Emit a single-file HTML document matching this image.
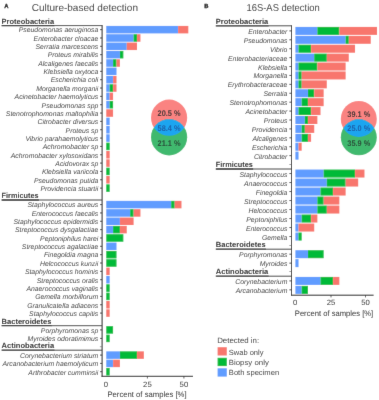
<!DOCTYPE html>
<html><head><meta charset="utf-8"><title>Detection</title>
<style>
html,body{margin:0;padding:0;background:#fff;}
body{width:379px;height:400px;overflow:hidden;}
svg{display:block;font-family:"Liberation Sans",sans-serif;text-rendering:geometricPrecision;will-change:transform;}
</style></head><body>
<svg width="379" height="400" viewBox="0 0 379 400">
<rect x="0" y="0" width="379" height="400" fill="#ffffff"/>
<defs><filter id="soft" x="0" y="0" width="379" height="400" filterUnits="userSpaceOnUse"><feConvolveMatrix order="3" kernelMatrix="0.00524 0.06192 0.00524 0.06192 0.73137 0.06192 0.00524 0.06192 0.00524" edgeMode="duplicate" preserveAlpha="true"/></filter></defs>
<g filter="url(#soft)">
<rect x="-5" y="-5" width="389" height="410" fill="#ffffff"/>
<line x1="102.10" y1="25.00" x2="102.10" y2="376.80" stroke="#111" stroke-width="0.95"/>
<line x1="101.60" y1="376.30" x2="193.00" y2="376.30" stroke="#111" stroke-width="0.95"/>
<line x1="54.10" y1="25.60" x2="102.10" y2="25.60" stroke="#444" stroke-width="1.0"/>
<line x1="1.60" y1="25.60" x2="54.40" y2="25.60" stroke="#1a1a1a" stroke-width="1.3"/>
<text x="1.60" y="23.70" font-size="7.5" text-anchor="start" font-weight="bold" font-style="normal" fill="#222" textLength="52.50" lengthAdjust="spacingAndGlyphs">Proteobacteria</text>
<rect x="106.25" y="25.90" width="71.82" height="7.50" fill="#619CFF"/>
<rect x="178.07" y="25.90" width="10.26" height="7.50" fill="#F8766D"/>
<line x1="100.00" y1="29.65" x2="102.10" y2="29.65" stroke="#333" stroke-width="0.9"/>
<text x="98.30" y="32.45" font-size="6.85" text-anchor="end" font-weight="normal" font-style="italic" fill="#3a3a3a">Pseudomonas aeruginosa</text>
<rect x="106.25" y="34.24" width="27.36" height="7.50" fill="#619CFF"/>
<rect x="133.61" y="34.24" width="3.42" height="7.50" fill="#00BA38"/>
<rect x="137.03" y="34.24" width="3.42" height="7.50" fill="#F8766D"/>
<line x1="100.00" y1="37.99" x2="102.10" y2="37.99" stroke="#333" stroke-width="0.9"/>
<text x="98.30" y="40.79" font-size="6.85" text-anchor="end" font-weight="normal" font-style="italic" fill="#3a3a3a">Enterobacter cloacae</text>
<rect x="106.25" y="42.58" width="20.52" height="7.50" fill="#619CFF"/>
<rect x="126.77" y="42.58" width="10.26" height="7.50" fill="#F8766D"/>
<line x1="100.00" y1="46.33" x2="102.10" y2="46.33" stroke="#333" stroke-width="0.9"/>
<text x="98.30" y="49.13" font-size="6.85" text-anchor="end" font-weight="normal" font-style="italic" fill="#3a3a3a">Serratia marcescens</text>
<rect x="106.25" y="50.92" width="13.68" height="7.50" fill="#619CFF"/>
<rect x="119.93" y="50.92" width="3.42" height="7.50" fill="#00BA38"/>
<line x1="100.00" y1="54.67" x2="102.10" y2="54.67" stroke="#333" stroke-width="0.9"/>
<text x="98.30" y="57.47" font-size="6.85" text-anchor="end" font-weight="normal" font-style="italic" fill="#3a3a3a">Proteus mirabilis</text>
<rect x="106.25" y="59.26" width="6.84" height="7.50" fill="#619CFF"/>
<rect x="113.09" y="59.26" width="3.42" height="7.50" fill="#00BA38"/>
<rect x="116.51" y="59.26" width="3.42" height="7.50" fill="#F8766D"/>
<line x1="100.00" y1="63.01" x2="102.10" y2="63.01" stroke="#333" stroke-width="0.9"/>
<text x="98.30" y="65.81" font-size="6.85" text-anchor="end" font-weight="normal" font-style="italic" fill="#3a3a3a">Alcaligenes faecalis</text>
<rect x="106.25" y="67.60" width="10.26" height="7.50" fill="#619CFF"/>
<line x1="100.00" y1="71.35" x2="102.10" y2="71.35" stroke="#333" stroke-width="0.9"/>
<text x="98.30" y="74.15" font-size="6.85" text-anchor="end" font-weight="normal" font-style="italic" fill="#3a3a3a">Klebsiella oxytoca</text>
<rect x="106.25" y="75.94" width="6.84" height="7.50" fill="#619CFF"/>
<rect x="113.09" y="75.94" width="3.42" height="7.50" fill="#F8766D"/>
<line x1="100.00" y1="79.69" x2="102.10" y2="79.69" stroke="#333" stroke-width="0.9"/>
<text x="98.30" y="82.49" font-size="6.85" text-anchor="end" font-weight="normal" font-style="italic" fill="#3a3a3a">Escherichia coli</text>
<rect x="106.25" y="84.28" width="3.42" height="7.50" fill="#619CFF"/>
<rect x="109.67" y="84.28" width="3.42" height="7.50" fill="#00BA38"/>
<rect x="113.09" y="84.28" width="3.42" height="7.50" fill="#F8766D"/>
<line x1="100.00" y1="88.03" x2="102.10" y2="88.03" stroke="#333" stroke-width="0.9"/>
<text x="98.30" y="90.83" font-size="6.85" text-anchor="end" font-weight="normal" font-style="italic" fill="#3a3a3a">Morganella morganii</text>
<rect x="106.25" y="92.62" width="3.42" height="7.50" fill="#619CFF"/>
<rect x="109.67" y="92.62" width="3.42" height="7.50" fill="#F8766D"/>
<line x1="100.00" y1="96.37" x2="102.10" y2="96.37" stroke="#333" stroke-width="0.9"/>
<text x="98.30" y="99.17" font-size="6.85" text-anchor="end" font-weight="normal" font-style="italic" fill="#3a3a3a">Acinetobacter haemolyticus</text>
<rect x="106.25" y="100.96" width="3.42" height="7.50" fill="#619CFF"/>
<rect x="109.67" y="100.96" width="3.42" height="7.50" fill="#00BA38"/>
<line x1="100.00" y1="104.71" x2="102.10" y2="104.71" stroke="#333" stroke-width="0.9"/>
<text x="98.30" y="107.51" font-size="6.85" text-anchor="end" font-weight="normal" font-style="italic" fill="#3a3a3a">Pseudomonas spp</text>
<rect x="106.25" y="109.30" width="6.84" height="7.50" fill="#F8766D"/>
<line x1="100.00" y1="113.05" x2="102.10" y2="113.05" stroke="#333" stroke-width="0.9"/>
<text x="98.30" y="115.85" font-size="6.85" text-anchor="end" font-weight="normal" font-style="italic" fill="#3a3a3a">Stenotrophomonas maltophilia</text>
<rect x="106.25" y="117.64" width="3.42" height="7.50" fill="#619CFF"/>
<line x1="100.00" y1="121.39" x2="102.10" y2="121.39" stroke="#333" stroke-width="0.9"/>
<text x="98.30" y="124.19" font-size="6.85" text-anchor="end" font-weight="normal" font-style="italic" fill="#3a3a3a">Citrobacter diversus</text>
<rect x="106.25" y="125.98" width="3.42" height="7.50" fill="#619CFF"/>
<line x1="100.00" y1="129.73" x2="102.10" y2="129.73" stroke="#333" stroke-width="0.9"/>
<text x="98.30" y="132.53" font-size="6.85" text-anchor="end" font-weight="normal" font-style="italic" fill="#3a3a3a">Proteus sp</text>
<rect x="106.25" y="134.32" width="3.42" height="7.50" fill="#619CFF"/>
<line x1="100.00" y1="138.07" x2="102.10" y2="138.07" stroke="#333" stroke-width="0.9"/>
<text x="98.30" y="140.87" font-size="6.85" text-anchor="end" font-weight="normal" font-style="italic" fill="#3a3a3a">Vibrio parahaemolyticus</text>
<rect x="106.25" y="142.66" width="3.42" height="7.50" fill="#00BA38"/>
<line x1="100.00" y1="146.41" x2="102.10" y2="146.41" stroke="#333" stroke-width="0.9"/>
<text x="98.30" y="149.21" font-size="6.85" text-anchor="end" font-weight="normal" font-style="italic" fill="#3a3a3a">Achromobacter sp</text>
<rect x="106.25" y="151.00" width="3.42" height="7.50" fill="#F8766D"/>
<line x1="100.00" y1="154.75" x2="102.10" y2="154.75" stroke="#333" stroke-width="0.9"/>
<text x="98.30" y="157.55" font-size="6.85" text-anchor="end" font-weight="normal" font-style="italic" fill="#3a3a3a">Achromobacter xylosoxidans</text>
<rect x="106.25" y="159.34" width="3.42" height="7.50" fill="#F8766D"/>
<line x1="100.00" y1="163.09" x2="102.10" y2="163.09" stroke="#333" stroke-width="0.9"/>
<text x="98.30" y="165.89" font-size="6.85" text-anchor="end" font-weight="normal" font-style="italic" fill="#3a3a3a">Acidovorax sp</text>
<rect x="106.25" y="167.68" width="3.42" height="7.50" fill="#00BA38"/>
<line x1="100.00" y1="171.43" x2="102.10" y2="171.43" stroke="#333" stroke-width="0.9"/>
<text x="98.30" y="174.23" font-size="6.85" text-anchor="end" font-weight="normal" font-style="italic" fill="#3a3a3a">Klebsiella variicola</text>
<rect x="106.25" y="176.02" width="3.42" height="7.50" fill="#F8766D"/>
<line x1="100.00" y1="179.77" x2="102.10" y2="179.77" stroke="#333" stroke-width="0.9"/>
<text x="98.30" y="182.57" font-size="6.85" text-anchor="end" font-weight="normal" font-style="italic" fill="#3a3a3a">Pseudomonas putida</text>
<rect x="106.25" y="184.36" width="3.42" height="7.50" fill="#00BA38"/>
<line x1="100.00" y1="188.11" x2="102.10" y2="188.11" stroke="#333" stroke-width="0.9"/>
<text x="98.30" y="190.91" font-size="6.85" text-anchor="end" font-weight="normal" font-style="italic" fill="#3a3a3a">Providencia stuartii</text>
<line x1="38.60" y1="200.00" x2="102.10" y2="200.00" stroke="#444" stroke-width="1.0"/>
<line x1="1.60" y1="200.00" x2="38.90" y2="200.00" stroke="#1a1a1a" stroke-width="1.3"/>
<text x="1.60" y="198.10" font-size="7.5" text-anchor="start" font-weight="bold" font-style="normal" fill="#222" textLength="37.00" lengthAdjust="spacingAndGlyphs">Firmicutes</text>
<rect x="106.25" y="200.85" width="64.98" height="7.50" fill="#619CFF"/>
<rect x="171.23" y="200.85" width="3.42" height="7.50" fill="#00BA38"/>
<rect x="174.65" y="200.85" width="6.84" height="7.50" fill="#F8766D"/>
<line x1="100.00" y1="204.60" x2="102.10" y2="204.60" stroke="#333" stroke-width="0.9"/>
<text x="98.30" y="207.40" font-size="6.85" text-anchor="end" font-weight="normal" font-style="italic" fill="#3a3a3a">Staphylococcus aureus</text>
<rect x="106.25" y="209.19" width="23.94" height="7.50" fill="#619CFF"/>
<rect x="130.19" y="209.19" width="3.42" height="7.50" fill="#00BA38"/>
<rect x="133.61" y="209.19" width="6.84" height="7.50" fill="#F8766D"/>
<line x1="100.00" y1="212.94" x2="102.10" y2="212.94" stroke="#333" stroke-width="0.9"/>
<text x="98.30" y="215.75" font-size="6.85" text-anchor="end" font-weight="normal" font-style="italic" fill="#3a3a3a">Enterococcus faecalis</text>
<rect x="106.25" y="217.54" width="13.68" height="7.50" fill="#619CFF"/>
<rect x="119.93" y="217.54" width="13.68" height="7.50" fill="#F8766D"/>
<line x1="100.00" y1="221.29" x2="102.10" y2="221.29" stroke="#333" stroke-width="0.9"/>
<text x="98.30" y="224.09" font-size="6.85" text-anchor="end" font-weight="normal" font-style="italic" fill="#3a3a3a">Staphylococcus epidermidis</text>
<rect x="106.25" y="225.88" width="6.84" height="7.50" fill="#619CFF"/>
<rect x="113.09" y="225.88" width="6.84" height="7.50" fill="#00BA38"/>
<rect x="119.93" y="225.88" width="6.84" height="7.50" fill="#F8766D"/>
<line x1="100.00" y1="229.63" x2="102.10" y2="229.63" stroke="#333" stroke-width="0.9"/>
<text x="98.30" y="232.44" font-size="6.85" text-anchor="end" font-weight="normal" font-style="italic" fill="#3a3a3a">Streptococcus dysgalactiae</text>
<rect x="106.25" y="234.23" width="17.10" height="7.50" fill="#00BA38"/>
<line x1="100.00" y1="237.98" x2="102.10" y2="237.98" stroke="#333" stroke-width="0.9"/>
<text x="98.30" y="240.78" font-size="6.85" text-anchor="end" font-weight="normal" font-style="italic" fill="#3a3a3a">Peptoniphilus harei</text>
<rect x="106.25" y="242.57" width="10.26" height="7.50" fill="#619CFF"/>
<line x1="100.00" y1="246.32" x2="102.10" y2="246.32" stroke="#333" stroke-width="0.9"/>
<text x="98.30" y="249.12" font-size="6.85" text-anchor="end" font-weight="normal" font-style="italic" fill="#3a3a3a">Streptococcus agalactiae</text>
<rect x="106.25" y="250.92" width="10.26" height="7.50" fill="#00BA38"/>
<line x1="100.00" y1="254.67" x2="102.10" y2="254.67" stroke="#333" stroke-width="0.9"/>
<text x="98.30" y="257.47" font-size="6.85" text-anchor="end" font-weight="normal" font-style="italic" fill="#3a3a3a">Finegoldia magna</text>
<rect x="106.25" y="259.26" width="10.26" height="7.50" fill="#00BA38"/>
<line x1="100.00" y1="263.01" x2="102.10" y2="263.01" stroke="#333" stroke-width="0.9"/>
<text x="98.30" y="265.81" font-size="6.85" text-anchor="end" font-weight="normal" font-style="italic" fill="#3a3a3a">Helcococcus kunzii</text>
<rect x="106.25" y="267.61" width="3.42" height="7.50" fill="#F8766D"/>
<line x1="100.00" y1="271.36" x2="102.10" y2="271.36" stroke="#333" stroke-width="0.9"/>
<text x="98.30" y="274.16" font-size="6.85" text-anchor="end" font-weight="normal" font-style="italic" fill="#3a3a3a">Staphylococcus hominis</text>
<rect x="106.25" y="275.95" width="3.42" height="7.50" fill="#619CFF"/>
<line x1="100.00" y1="279.70" x2="102.10" y2="279.70" stroke="#333" stroke-width="0.9"/>
<text x="98.30" y="282.50" font-size="6.85" text-anchor="end" font-weight="normal" font-style="italic" fill="#3a3a3a">Streptococcus oralis</text>
<rect x="106.25" y="284.30" width="3.42" height="7.50" fill="#00BA38"/>
<line x1="100.00" y1="288.05" x2="102.10" y2="288.05" stroke="#333" stroke-width="0.9"/>
<text x="98.30" y="290.85" font-size="6.85" text-anchor="end" font-weight="normal" font-style="italic" fill="#3a3a3a">Anaerococcus vaginalis</text>
<rect x="106.25" y="292.64" width="3.42" height="7.50" fill="#00BA38"/>
<line x1="100.00" y1="296.39" x2="102.10" y2="296.39" stroke="#333" stroke-width="0.9"/>
<text x="98.30" y="299.19" font-size="6.85" text-anchor="end" font-weight="normal" font-style="italic" fill="#3a3a3a">Gemella morbillorum</text>
<rect x="106.25" y="300.99" width="3.42" height="7.50" fill="#F8766D"/>
<line x1="100.00" y1="304.74" x2="102.10" y2="304.74" stroke="#333" stroke-width="0.9"/>
<text x="98.30" y="307.54" font-size="6.85" text-anchor="end" font-weight="normal" font-style="italic" fill="#3a3a3a">Granulicatella adiacens</text>
<rect x="106.25" y="309.34" width="3.42" height="7.50" fill="#F8766D"/>
<line x1="100.00" y1="313.09" x2="102.10" y2="313.09" stroke="#333" stroke-width="0.9"/>
<text x="98.30" y="315.89" font-size="6.85" text-anchor="end" font-weight="normal" font-style="italic" fill="#3a3a3a">Staphylococcus capitis</text>
<line x1="51.40" y1="325.70" x2="102.10" y2="325.70" stroke="#444" stroke-width="1.0"/>
<line x1="1.60" y1="325.70" x2="51.70" y2="325.70" stroke="#1a1a1a" stroke-width="1.3"/>
<text x="1.60" y="323.80" font-size="7.5" text-anchor="start" font-weight="bold" font-style="normal" fill="#222" textLength="49.80" lengthAdjust="spacingAndGlyphs">Bacteroidetes</text>
<rect x="106.25" y="326.15" width="6.84" height="7.50" fill="#00BA38"/>
<line x1="100.00" y1="329.90" x2="102.10" y2="329.90" stroke="#333" stroke-width="0.9"/>
<text x="98.30" y="332.70" font-size="6.85" text-anchor="end" font-weight="normal" font-style="italic" fill="#3a3a3a">Porphyromonas sp</text>
<rect x="106.25" y="334.65" width="3.42" height="7.50" fill="#00BA38"/>
<line x1="100.00" y1="338.40" x2="102.10" y2="338.40" stroke="#333" stroke-width="0.9"/>
<text x="98.30" y="341.20" font-size="6.85" text-anchor="end" font-weight="normal" font-style="italic" fill="#3a3a3a">Myroides odoratimimus</text>
<line x1="54.10" y1="350.20" x2="102.10" y2="350.20" stroke="#444" stroke-width="1.0"/>
<line x1="1.60" y1="350.20" x2="54.40" y2="350.20" stroke="#1a1a1a" stroke-width="1.3"/>
<text x="1.60" y="348.30" font-size="7.5" text-anchor="start" font-weight="bold" font-style="normal" fill="#222" textLength="52.50" lengthAdjust="spacingAndGlyphs">Actinobacteria</text>
<rect x="106.25" y="351.35" width="13.68" height="7.50" fill="#619CFF"/>
<rect x="119.93" y="351.35" width="17.10" height="7.50" fill="#00BA38"/>
<rect x="137.03" y="351.35" width="6.84" height="7.50" fill="#F8766D"/>
<line x1="100.00" y1="355.10" x2="102.10" y2="355.10" stroke="#333" stroke-width="0.9"/>
<text x="98.30" y="357.90" font-size="6.85" text-anchor="end" font-weight="normal" font-style="italic" fill="#3a3a3a">Corynebacterium striatum</text>
<rect x="106.25" y="359.65" width="6.84" height="7.50" fill="#619CFF"/>
<rect x="113.09" y="359.65" width="6.84" height="7.50" fill="#F8766D"/>
<line x1="100.00" y1="363.40" x2="102.10" y2="363.40" stroke="#333" stroke-width="0.9"/>
<text x="98.30" y="366.20" font-size="6.85" text-anchor="end" font-weight="normal" font-style="italic" fill="#3a3a3a">Arcanobacterium haemolyticum</text>
<rect x="106.25" y="367.95" width="3.42" height="7.50" fill="#00BA38"/>
<line x1="100.00" y1="371.70" x2="102.10" y2="371.70" stroke="#333" stroke-width="0.9"/>
<text x="98.30" y="374.50" font-size="6.85" text-anchor="end" font-weight="normal" font-style="italic" fill="#3a3a3a">Arthrobacter cumminsii</text>
<line x1="99.90" y1="346.70" x2="102.10" y2="346.70" stroke="#777" stroke-width="0.7"/>
<text x="106.00" y="386.70" font-size="7.7" text-anchor="middle" font-weight="normal" font-style="normal" fill="#262626">0</text>
<line x1="147.40" y1="376.30" x2="147.40" y2="378.50" stroke="#333" stroke-width="0.8"/>
<text x="147.40" y="386.70" font-size="7.7" text-anchor="middle" font-weight="normal" font-style="normal" fill="#262626">25</text>
<line x1="183.90" y1="376.30" x2="183.90" y2="378.50" stroke="#333" stroke-width="0.8"/>
<text x="183.90" y="386.70" font-size="7.7" text-anchor="middle" font-weight="normal" font-style="normal" fill="#262626">50</text>
<text x="107.40" y="396.90" font-size="7.9" text-anchor="start" font-weight="normal" font-style="normal" fill="#262626" textLength="79.20" lengthAdjust="spacingAndGlyphs">Percent of samples [%]</text>
<line x1="291.50" y1="25.20" x2="291.50" y2="295.70" stroke="#111" stroke-width="0.95"/>
<line x1="291.00" y1="295.20" x2="373.60" y2="295.20" stroke="#111" stroke-width="0.95"/>
<line x1="268.30" y1="25.80" x2="291.50" y2="25.80" stroke="#444" stroke-width="1.0"/>
<line x1="215.80" y1="25.80" x2="268.60" y2="25.80" stroke="#1a1a1a" stroke-width="1.3"/>
<text x="215.80" y="23.90" font-size="7.5" text-anchor="start" font-weight="bold" font-style="normal" fill="#222" textLength="52.50" lengthAdjust="spacingAndGlyphs">Proteobacteria</text>
<rect x="295.40" y="26.90" width="21.98" height="8.00" fill="#619CFF"/>
<rect x="317.38" y="26.90" width="21.98" height="8.00" fill="#00BA38"/>
<rect x="339.36" y="26.90" width="37.68" height="8.00" fill="#F8766D"/>
<line x1="289.40" y1="30.90" x2="291.50" y2="30.90" stroke="#333" stroke-width="0.9"/>
<text x="287.40" y="33.90" font-size="6.85" text-anchor="end" font-weight="normal" font-style="italic" fill="#3a3a3a">Enterobacter</text>
<rect x="295.40" y="35.81" width="50.24" height="8.00" fill="#619CFF"/>
<rect x="345.64" y="35.81" width="3.14" height="8.00" fill="#00BA38"/>
<rect x="348.78" y="35.81" width="21.98" height="8.00" fill="#F8766D"/>
<line x1="289.40" y1="39.81" x2="291.50" y2="39.81" stroke="#333" stroke-width="0.9"/>
<text x="287.40" y="42.81" font-size="6.85" text-anchor="end" font-weight="normal" font-style="italic" fill="#3a3a3a">Pseudomonas</text>
<rect x="295.40" y="44.72" width="3.14" height="8.00" fill="#619CFF"/>
<rect x="298.54" y="44.72" width="12.56" height="8.00" fill="#00BA38"/>
<rect x="311.10" y="44.72" width="43.96" height="8.00" fill="#F8766D"/>
<line x1="289.40" y1="48.72" x2="291.50" y2="48.72" stroke="#333" stroke-width="0.9"/>
<text x="287.40" y="51.72" font-size="6.85" text-anchor="end" font-weight="normal" font-style="italic" fill="#3a3a3a">Vibrio</text>
<rect x="295.40" y="53.63" width="18.84" height="8.00" fill="#619CFF"/>
<rect x="314.24" y="53.63" width="12.56" height="8.00" fill="#00BA38"/>
<rect x="326.80" y="53.63" width="21.98" height="8.00" fill="#F8766D"/>
<line x1="289.40" y1="57.63" x2="291.50" y2="57.63" stroke="#333" stroke-width="0.9"/>
<text x="287.40" y="60.63" font-size="6.85" text-anchor="end" font-weight="normal" font-style="italic" fill="#3a3a3a">Enterobacteriaceae</text>
<rect x="295.40" y="62.54" width="3.14" height="8.00" fill="#619CFF"/>
<rect x="298.54" y="62.54" width="18.84" height="8.00" fill="#00BA38"/>
<rect x="317.38" y="62.54" width="28.26" height="8.00" fill="#F8766D"/>
<line x1="289.40" y1="66.54" x2="291.50" y2="66.54" stroke="#333" stroke-width="0.9"/>
<text x="287.40" y="69.54" font-size="6.85" text-anchor="end" font-weight="normal" font-style="italic" fill="#3a3a3a">Klebsiella</text>
<rect x="295.40" y="71.45" width="3.14" height="8.00" fill="#619CFF"/>
<rect x="298.54" y="71.45" width="3.14" height="8.00" fill="#00BA38"/>
<rect x="301.68" y="71.45" width="43.96" height="8.00" fill="#F8766D"/>
<line x1="289.40" y1="75.45" x2="291.50" y2="75.45" stroke="#333" stroke-width="0.9"/>
<text x="287.40" y="78.45" font-size="6.85" text-anchor="end" font-weight="normal" font-style="italic" fill="#3a3a3a">Morganella</text>
<rect x="295.40" y="80.36" width="3.14" height="8.00" fill="#619CFF"/>
<rect x="298.54" y="80.36" width="3.14" height="8.00" fill="#00BA38"/>
<rect x="301.68" y="80.36" width="25.12" height="8.00" fill="#F8766D"/>
<line x1="289.40" y1="84.36" x2="291.50" y2="84.36" stroke="#333" stroke-width="0.9"/>
<text x="287.40" y="87.36" font-size="6.85" text-anchor="end" font-weight="normal" font-style="italic" fill="#3a3a3a">Erythrobacteraceae</text>
<rect x="295.40" y="89.27" width="12.56" height="8.00" fill="#619CFF"/>
<rect x="307.96" y="89.27" width="6.28" height="8.00" fill="#00BA38"/>
<rect x="314.24" y="89.27" width="9.42" height="8.00" fill="#F8766D"/>
<line x1="289.40" y1="93.27" x2="291.50" y2="93.27" stroke="#333" stroke-width="0.9"/>
<text x="287.40" y="96.27" font-size="6.85" text-anchor="end" font-weight="normal" font-style="italic" fill="#3a3a3a">Serratia</text>
<rect x="295.40" y="98.18" width="6.28" height="8.00" fill="#619CFF"/>
<rect x="301.68" y="98.18" width="6.28" height="8.00" fill="#00BA38"/>
<rect x="307.96" y="98.18" width="15.70" height="8.00" fill="#F8766D"/>
<line x1="289.40" y1="102.18" x2="291.50" y2="102.18" stroke="#333" stroke-width="0.9"/>
<text x="287.40" y="105.18" font-size="6.85" text-anchor="end" font-weight="normal" font-style="italic" fill="#3a3a3a">Stenotrophomonas</text>
<rect x="295.40" y="107.09" width="3.14" height="8.00" fill="#619CFF"/>
<rect x="298.54" y="107.09" width="12.56" height="8.00" fill="#00BA38"/>
<rect x="311.10" y="107.09" width="9.42" height="8.00" fill="#F8766D"/>
<line x1="289.40" y1="111.09" x2="291.50" y2="111.09" stroke="#333" stroke-width="0.9"/>
<text x="287.40" y="114.09" font-size="6.85" text-anchor="end" font-weight="normal" font-style="italic" fill="#3a3a3a">Acinetobacter</text>
<rect x="295.40" y="116.00" width="9.42" height="8.00" fill="#619CFF"/>
<rect x="304.82" y="116.00" width="3.14" height="8.00" fill="#00BA38"/>
<rect x="307.96" y="116.00" width="9.42" height="8.00" fill="#F8766D"/>
<line x1="289.40" y1="120.00" x2="291.50" y2="120.00" stroke="#333" stroke-width="0.9"/>
<text x="287.40" y="123.00" font-size="6.85" text-anchor="end" font-weight="normal" font-style="italic" fill="#3a3a3a">Proteus</text>
<rect x="295.40" y="124.91" width="6.28" height="8.00" fill="#619CFF"/>
<rect x="301.68" y="124.91" width="3.14" height="8.00" fill="#00BA38"/>
<rect x="304.82" y="124.91" width="9.42" height="8.00" fill="#F8766D"/>
<line x1="289.40" y1="128.91" x2="291.50" y2="128.91" stroke="#333" stroke-width="0.9"/>
<text x="287.40" y="131.91" font-size="6.85" text-anchor="end" font-weight="normal" font-style="italic" fill="#3a3a3a">Providencia</text>
<rect x="295.40" y="133.82" width="6.28" height="8.00" fill="#619CFF"/>
<rect x="301.68" y="133.82" width="6.28" height="8.00" fill="#00BA38"/>
<rect x="307.96" y="133.82" width="3.14" height="8.00" fill="#F8766D"/>
<line x1="289.40" y1="137.82" x2="291.50" y2="137.82" stroke="#333" stroke-width="0.9"/>
<text x="287.40" y="140.82" font-size="6.85" text-anchor="end" font-weight="normal" font-style="italic" fill="#3a3a3a">Alcaligenes</text>
<rect x="295.40" y="142.73" width="3.14" height="8.00" fill="#619CFF"/>
<rect x="298.54" y="142.73" width="3.14" height="8.00" fill="#F8766D"/>
<line x1="289.40" y1="146.73" x2="291.50" y2="146.73" stroke="#333" stroke-width="0.9"/>
<text x="287.40" y="149.73" font-size="6.85" text-anchor="end" font-weight="normal" font-style="italic" fill="#3a3a3a">Escherichia</text>
<rect x="295.40" y="151.64" width="3.14" height="8.00" fill="#619CFF"/>
<line x1="289.40" y1="155.64" x2="291.50" y2="155.64" stroke="#333" stroke-width="0.9"/>
<text x="287.40" y="158.64" font-size="6.85" text-anchor="end" font-weight="normal" font-style="italic" fill="#3a3a3a">Citrobacter</text>
<line x1="252.80" y1="169.00" x2="291.50" y2="169.00" stroke="#444" stroke-width="1.0"/>
<line x1="215.80" y1="169.00" x2="253.10" y2="169.00" stroke="#1a1a1a" stroke-width="1.3"/>
<text x="215.80" y="167.10" font-size="7.5" text-anchor="start" font-weight="bold" font-style="normal" fill="#222" textLength="37.00" lengthAdjust="spacingAndGlyphs">Firmicutes</text>
<rect x="295.40" y="169.55" width="28.26" height="8.00" fill="#619CFF"/>
<rect x="323.66" y="169.55" width="31.40" height="8.00" fill="#00BA38"/>
<rect x="355.06" y="169.55" width="9.42" height="8.00" fill="#F8766D"/>
<line x1="289.40" y1="173.55" x2="291.50" y2="173.55" stroke="#333" stroke-width="0.9"/>
<text x="287.40" y="176.55" font-size="6.85" text-anchor="end" font-weight="normal" font-style="italic" fill="#3a3a3a">Staphylococcus</text>
<rect x="295.40" y="178.55" width="31.40" height="8.00" fill="#619CFF"/>
<rect x="326.80" y="178.55" width="18.84" height="8.00" fill="#00BA38"/>
<rect x="345.64" y="178.55" width="12.56" height="8.00" fill="#F8766D"/>
<line x1="289.40" y1="182.55" x2="291.50" y2="182.55" stroke="#333" stroke-width="0.9"/>
<text x="287.40" y="185.55" font-size="6.85" text-anchor="end" font-weight="normal" font-style="italic" fill="#3a3a3a">Anaerococcus</text>
<rect x="295.40" y="187.55" width="25.12" height="8.00" fill="#619CFF"/>
<rect x="320.52" y="187.55" width="12.56" height="8.00" fill="#00BA38"/>
<rect x="333.08" y="187.55" width="12.56" height="8.00" fill="#F8766D"/>
<line x1="289.40" y1="191.55" x2="291.50" y2="191.55" stroke="#333" stroke-width="0.9"/>
<text x="287.40" y="194.55" font-size="6.85" text-anchor="end" font-weight="normal" font-style="italic" fill="#3a3a3a">Finegoldia</text>
<rect x="295.40" y="196.55" width="21.98" height="8.00" fill="#619CFF"/>
<rect x="317.38" y="196.55" width="6.28" height="8.00" fill="#00BA38"/>
<rect x="323.66" y="196.55" width="15.70" height="8.00" fill="#F8766D"/>
<line x1="289.40" y1="200.55" x2="291.50" y2="200.55" stroke="#333" stroke-width="0.9"/>
<text x="287.40" y="203.55" font-size="6.85" text-anchor="end" font-weight="normal" font-style="italic" fill="#3a3a3a">Streptococcus</text>
<rect x="295.40" y="205.55" width="21.98" height="8.00" fill="#619CFF"/>
<rect x="317.38" y="205.55" width="9.42" height="8.00" fill="#00BA38"/>
<rect x="326.80" y="205.55" width="12.56" height="8.00" fill="#F8766D"/>
<line x1="289.40" y1="209.55" x2="291.50" y2="209.55" stroke="#333" stroke-width="0.9"/>
<text x="287.40" y="212.55" font-size="6.85" text-anchor="end" font-weight="normal" font-style="italic" fill="#3a3a3a">Helcococcus</text>
<rect x="295.40" y="214.55" width="6.28" height="8.00" fill="#619CFF"/>
<rect x="301.68" y="214.55" width="9.42" height="8.00" fill="#00BA38"/>
<rect x="311.10" y="214.55" width="6.28" height="8.00" fill="#F8766D"/>
<line x1="289.40" y1="218.55" x2="291.50" y2="218.55" stroke="#333" stroke-width="0.9"/>
<text x="287.40" y="221.55" font-size="6.85" text-anchor="end" font-weight="normal" font-style="italic" fill="#3a3a3a">Peptoniphilus</text>
<rect x="295.40" y="223.55" width="3.14" height="8.00" fill="#619CFF"/>
<rect x="298.54" y="223.55" width="15.70" height="8.00" fill="#F8766D"/>
<line x1="289.40" y1="227.55" x2="291.50" y2="227.55" stroke="#333" stroke-width="0.9"/>
<text x="287.40" y="230.55" font-size="6.85" text-anchor="end" font-weight="normal" font-style="italic" fill="#3a3a3a">Enterococcus</text>
<rect x="295.40" y="232.55" width="3.14" height="8.00" fill="#619CFF"/>
<rect x="298.54" y="232.55" width="3.14" height="8.00" fill="#00BA38"/>
<line x1="289.40" y1="236.55" x2="291.50" y2="236.55" stroke="#333" stroke-width="0.9"/>
<text x="287.40" y="239.55" font-size="6.85" text-anchor="end" font-weight="normal" font-style="italic" fill="#3a3a3a">Gemella</text>
<line x1="265.60" y1="249.20" x2="291.50" y2="249.20" stroke="#444" stroke-width="1.0"/>
<line x1="215.80" y1="249.20" x2="265.90" y2="249.20" stroke="#1a1a1a" stroke-width="1.3"/>
<text x="215.80" y="247.30" font-size="7.5" text-anchor="start" font-weight="bold" font-style="normal" fill="#222" textLength="49.80" lengthAdjust="spacingAndGlyphs">Bacteroidetes</text>
<rect x="295.40" y="250.20" width="12.56" height="8.00" fill="#619CFF"/>
<rect x="307.96" y="250.20" width="15.70" height="8.00" fill="#00BA38"/>
<line x1="289.40" y1="254.20" x2="291.50" y2="254.20" stroke="#333" stroke-width="0.9"/>
<text x="287.40" y="257.20" font-size="6.85" text-anchor="end" font-weight="normal" font-style="italic" fill="#3a3a3a">Porphyromonas</text>
<rect x="295.40" y="259.15" width="3.14" height="8.00" fill="#619CFF"/>
<line x1="289.40" y1="263.15" x2="291.50" y2="263.15" stroke="#333" stroke-width="0.9"/>
<text x="287.40" y="266.15" font-size="6.85" text-anchor="end" font-weight="normal" font-style="italic" fill="#3a3a3a">Myroides</text>
<line x1="268.30" y1="276.20" x2="291.50" y2="276.20" stroke="#444" stroke-width="1.0"/>
<line x1="215.80" y1="276.20" x2="268.60" y2="276.20" stroke="#1a1a1a" stroke-width="1.3"/>
<text x="215.80" y="274.30" font-size="7.5" text-anchor="start" font-weight="bold" font-style="normal" fill="#222" textLength="52.50" lengthAdjust="spacingAndGlyphs">Actinobacteria</text>
<rect x="295.40" y="276.90" width="25.12" height="8.00" fill="#619CFF"/>
<rect x="320.52" y="276.90" width="12.56" height="8.00" fill="#00BA38"/>
<rect x="333.08" y="276.90" width="6.28" height="8.00" fill="#F8766D"/>
<line x1="289.40" y1="280.90" x2="291.50" y2="280.90" stroke="#333" stroke-width="0.9"/>
<text x="287.40" y="283.90" font-size="6.85" text-anchor="end" font-weight="normal" font-style="italic" fill="#3a3a3a">Corynebacterium</text>
<rect x="295.40" y="285.85" width="6.28" height="8.00" fill="#619CFF"/>
<rect x="301.68" y="285.85" width="6.28" height="8.00" fill="#00BA38"/>
<line x1="289.40" y1="289.85" x2="291.50" y2="289.85" stroke="#333" stroke-width="0.9"/>
<text x="287.40" y="292.85" font-size="6.85" text-anchor="end" font-weight="normal" font-style="italic" fill="#3a3a3a">Arcanobacterium</text>
<line x1="289.30" y1="164.50" x2="291.50" y2="164.50" stroke="#777" stroke-width="0.7"/>
<line x1="289.30" y1="245.50" x2="291.50" y2="245.50" stroke="#777" stroke-width="0.7"/>
<line x1="289.30" y1="271.50" x2="291.50" y2="271.50" stroke="#777" stroke-width="0.7"/>
<text x="295.10" y="304.70" font-size="7.7" text-anchor="middle" font-weight="normal" font-style="normal" fill="#262626">0</text>
<line x1="331.00" y1="295.20" x2="331.00" y2="297.40" stroke="#333" stroke-width="0.8"/>
<text x="331.00" y="304.70" font-size="7.7" text-anchor="middle" font-weight="normal" font-style="normal" fill="#262626">25</text>
<line x1="365.50" y1="295.20" x2="365.50" y2="297.40" stroke="#333" stroke-width="0.8"/>
<text x="365.50" y="304.70" font-size="7.7" text-anchor="middle" font-weight="normal" font-style="normal" fill="#262626">50</text>
<text x="294.80" y="315.90" font-size="7.9" text-anchor="start" font-weight="normal" font-style="normal" fill="#262626" textLength="78.40" lengthAdjust="spacingAndGlyphs">Percent of samples [%]</text>
<circle cx="169.1" cy="117.7" r="18.1" fill="#FA8381"/>
<circle cx="169.1" cy="137.3" r="18.1" fill="#3FB96E"/>
<clipPath id="c169"><circle cx="169.1" cy="117.7" r="18.1"/></clipPath>
<circle cx="169.1" cy="137.3" r="18.1" fill="#1EA5F0" clip-path="url(#c169)"/>
<text x="169.10" y="116.30" font-size="8.2" text-anchor="middle" font-weight="bold" font-style="normal" fill="#3c3434" textLength="23.00" lengthAdjust="spacingAndGlyphs">20.5 %</text>
<text x="169.10" y="131.40" font-size="8.2" text-anchor="middle" font-weight="bold" font-style="normal" fill="#1D5FA8" textLength="23.00" lengthAdjust="spacingAndGlyphs">58.4 %</text>
<text x="169.10" y="146.30" font-size="8.2" text-anchor="middle" font-weight="bold" font-style="normal" fill="#2a4a38" textLength="23.00" lengthAdjust="spacingAndGlyphs">21.1 %</text>
<circle cx="358.8" cy="118.9" r="18.0" fill="#FA8381"/>
<circle cx="358.8" cy="137.3" r="18.0" fill="#3FB96E"/>
<clipPath id="c358"><circle cx="358.8" cy="118.9" r="18.0"/></clipPath>
<circle cx="358.8" cy="137.3" r="18.0" fill="#1EA5F0" clip-path="url(#c358)"/>
<text x="358.80" y="116.70" font-size="8.2" text-anchor="middle" font-weight="bold" font-style="normal" fill="#3c3434" textLength="23.00" lengthAdjust="spacingAndGlyphs">39.1 %</text>
<text x="358.80" y="131.30" font-size="8.2" text-anchor="middle" font-weight="bold" font-style="normal" fill="#1D5FA8" textLength="23.00" lengthAdjust="spacingAndGlyphs">25.0 %</text>
<text x="358.80" y="146.30" font-size="8.2" text-anchor="middle" font-weight="bold" font-style="normal" fill="#2a4a38" textLength="23.00" lengthAdjust="spacingAndGlyphs">35.9 %</text>
<text x="4.30" y="8.30" font-size="5.9" text-anchor="start" font-weight="bold" font-style="normal" fill="#000" stroke="#000" stroke-width="0.25">A</text>
<text x="204.20" y="8.10" font-size="5.9" text-anchor="start" font-weight="bold" font-style="normal" fill="#000" stroke="#000" stroke-width="0.25">B</text>
<text x="31.70" y="11.40" font-size="10" text-anchor="start" font-weight="normal" font-style="normal" fill="#333" textLength="106.30" lengthAdjust="spacingAndGlyphs">Culture-based detection</text>
<text x="246.50" y="11.40" font-size="10" text-anchor="start" font-weight="normal" font-style="normal" fill="#333" textLength="73.20" lengthAdjust="spacingAndGlyphs">16S-AS detection</text>
<text x="217.20" y="342.50" font-size="7.8" text-anchor="start" font-weight="normal" font-style="normal" fill="#383838" textLength="42.00" lengthAdjust="spacingAndGlyphs">Detected in:</text>
<rect x="217.60" y="347.20" width="9.20" height="8.30" fill="#F8766D"/>
<rect x="217.60" y="357.80" width="9.20" height="8.30" fill="#00BA38"/>
<rect x="217.60" y="368.30" width="9.20" height="8.30" fill="#619CFF"/>
<text x="228.80" y="354.60" font-size="7.5" text-anchor="start" font-weight="normal" font-style="normal" fill="#383838" textLength="34.60" lengthAdjust="spacingAndGlyphs">Swab only</text>
<text x="228.80" y="365.00" font-size="7.5" text-anchor="start" font-weight="normal" font-style="normal" fill="#383838" textLength="40.00" lengthAdjust="spacingAndGlyphs">Biopsy only</text>
<text x="228.80" y="375.20" font-size="7.5" text-anchor="start" font-weight="normal" font-style="normal" fill="#383838" textLength="50.40" lengthAdjust="spacingAndGlyphs">Both specimen</text>
</g>
</svg>
</body></html>
